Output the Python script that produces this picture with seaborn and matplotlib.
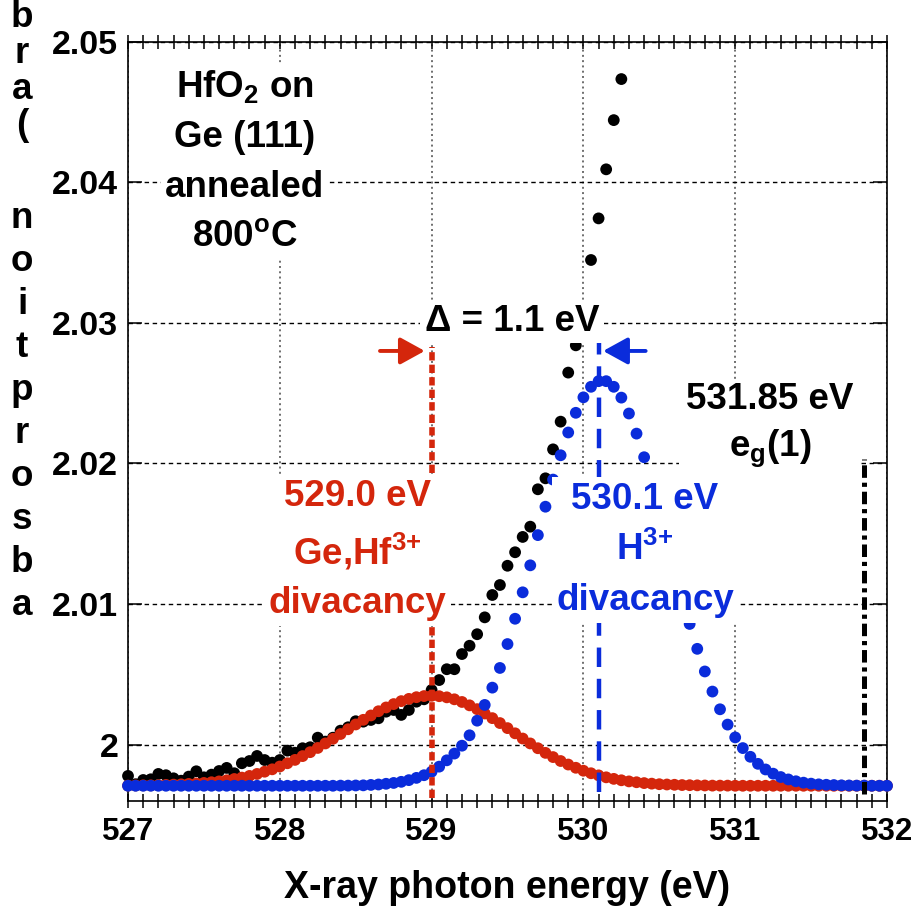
import numpy as np
import pandas as pd
import matplotlib
matplotlib.use("Agg")
import matplotlib.pyplot as plt
from matplotlib.ticker import MultipleLocator, FixedLocator, FixedFormatter
import seaborn as sns

sns.set_theme(style="ticks")
plt.rcParams["font.family"] = ["Liberation Sans", "DejaVu Sans"]
plt.rcParams["font.weight"] = "bold"
plt.rcParams["mathtext.fontset"] = "custom"
for key in ("rm", "it", "bf", "sf"):
    plt.rcParams[f"mathtext.{key}"] = "Liberation Sans:bold"
plt.rcParams["lines.scale_dashes"] = False
for key in ("text.color", "axes.labelcolor", "xtick.color", "ytick.color", "axes.edgecolor"):
    plt.rcParams[key] = "black"

RED = "#D4260C"
BLUE = "#0A2CDB"

# photon-energy sampling grid of the scan (eV)
energy = np.round(np.linspace(527.0, 532.0, 101), 2)

# measured O K-edge absorption, 527.00 ... 530.25 eV
measured = [
    1.99777, 1.99718, 1.99748, 1.99753, 1.99791, 1.99782, 1.99760, 1.99743,
    1.99772, 1.99810, 1.99767, 1.99786, 1.99812, 1.99834, 1.99796, 1.99867,
    1.99883, 1.99919, 1.99890, 1.99871, 1.99890, 1.99957, 1.99942, 1.99974,
    1.99981, 2.00049, 2.00021, 2.00049, 2.00099, 2.00123, 2.00166, 2.00163,
    2.00175, 2.00187, 2.00234, 2.00246, 2.00211, 2.00246, 2.00305, 2.00322,
    2.00388, 2.00459, 2.00536, 2.00536, 2.00644, 2.00703, 2.00785, 2.00905,
    2.01064, 2.01135, 2.01272, 2.01368, 2.01477, 2.01550, 2.01816, 2.01894,
    2.02100, 2.02297, 2.02646, 2.02840, 2.03110, 2.03447, 2.03743, 2.04092,
    2.04442, 2.04734,
]

# Ge,Hf3+ divacancy component, 527.00 ... 532.00 eV
ge_hf_component = [
    1.99708, 1.99709, 1.99710, 1.99710, 1.99711, 1.99713, 1.99715, 1.99717,
    1.99720, 1.99723, 1.99727, 1.99732, 1.99738, 1.99746, 1.99755, 1.99765,
    1.99777, 1.99791, 1.99807, 1.99824, 1.99844, 1.99867, 1.99891, 1.99918,
    1.99946, 1.99976, 2.00008, 2.00041, 2.00075, 2.00109, 2.00143, 2.00176,
    2.00207, 2.00237, 2.00264, 2.00288, 2.00309, 2.00325, 2.00337, 2.00345,
    2.00347, 2.00344, 2.00336, 2.00322, 2.00303, 2.00279, 2.00252, 2.00221,
    2.00188, 2.00153, 2.00117, 2.00080, 2.00043, 2.00008, 1.99974, 1.99941,
    1.99911, 1.99883, 1.99858, 1.99835, 1.99814, 1.99796, 1.99781, 1.99767,
    1.99756, 1.99746, 1.99738, 1.99732, 1.99726, 1.99722, 1.99718, 1.99716,
    1.99714, 1.99712, 1.99711, 1.99710, 1.99709, 1.99708, 1.99708, 1.99708,
    1.99707, 1.99707, 1.99707, 1.99707, 1.99707, 1.99707, 1.99707, 1.99707,
    1.99707, 1.99707, 1.99707, 1.99707, 1.99707, 1.99707, 1.99707, 1.99707,
    1.99707, 1.99707, 1.99707, 1.99707, 1.99707,
]

# H3+ divacancy component, 527.00 ... 532.00 eV
h_component = [
    1.99707, 1.99707, 1.99707, 1.99707, 1.99707, 1.99707, 1.99707, 1.99707,
    1.99707, 1.99707, 1.99707, 1.99707, 1.99707, 1.99707, 1.99707, 1.99707,
    1.99707, 1.99707, 1.99707, 1.99707, 1.99707, 1.99707, 1.99707, 1.99707,
    1.99707, 1.99707, 1.99707, 1.99707, 1.99708, 1.99708, 1.99709, 1.99710,
    1.99713, 1.99716, 1.99721, 1.99727, 1.99735, 1.99747, 1.99763, 1.99782,
    1.99807, 1.99843, 1.99888, 1.99936, 1.99992, 2.00066, 2.00170, 2.00282,
    2.00405, 2.00545, 2.00715, 2.00895, 2.01083, 2.01275, 2.01490, 2.01692,
    2.01885, 2.02058, 2.02220, 2.02360, 2.02470, 2.02545, 2.02585, 2.02585,
    2.02545, 2.02468, 2.02355, 2.02212, 2.02044, 2.01857, 2.01658, 2.01453,
    2.01248, 2.01048, 2.00858, 2.00681, 2.00520, 2.00377, 2.00251, 2.00142,
    2.00051, 1.99975, 1.99913, 1.99863, 1.99823, 1.99793, 1.99769, 1.99752,
    1.99739, 1.99729, 1.99722, 1.99717, 1.99714, 1.99712, 1.99710, 1.99709,
    1.99708, 1.99708, 1.99707, 1.99707, 1.99707,
]

x_ticks = [527, 528, 529, 530, 531, 532]
x_tick_labels = ["527", "528", "529", "530", "531", "532"]
y_ticks = [2.00, 2.01, 2.02, 2.03, 2.04, 2.05]
y_tick_labels = ["2", "2.01", "2.02", "2.03", "2.04", "2.05"]

ge_hf_peak = 529.0
h_peak = 530.1
eg_edge = 531.85
splitting = round(h_peak - ge_hf_peak, 1)

XTICK_FS = 22.5
YTICK_FS = 24.5
TEXT_FS = 26.5

fig = plt.figure(figsize=(9.15, 9.10), dpi=100)
ax = fig.add_axes([0.1399, 0.1200, 0.8295, 0.8342])

df_meas = pd.DataFrame({"energy": energy[:len(measured)], "absorption": measured})
df_gehf = pd.DataFrame({"energy": energy, "absorption": ge_hf_component})
df_h = pd.DataFrame({"energy": energy, "absorption": h_component})

dot = dict(s=72, edgecolor="none", linewidth=0, clip_on=False, legend=False)
sns.scatterplot(data=df_meas, x="energy", y="absorption", color="black", ax=ax, zorder=3, **dot)
sns.scatterplot(data=df_gehf, x="energy", y="absorption", color=RED, ax=ax, zorder=4, **dot)
sns.scatterplot(data=df_h, x="energy", y="absorption", color=BLUE, ax=ax, zorder=5, **dot)

ax.set_xlim(527, 532)
ax.set_ylim(1.996, 2.05)

# peak markers
ax.axvline(ge_hf_peak, ymin=0.004, ymax=0.598, color=RED, lw=4.0,
           linestyle=(0, (6.0, 3.0)), zorder=6)
ax.axvline(h_peak, ymin=0.011, ymax=0.604, color=BLUE, lw=3.2,
           linestyle=(0, (14.0, 8.5)), zorder=6)
ax.axvline(eg_edge, ymin=0.009, ymax=0.45, color="black", lw=3.6,
           linestyle=(0, (9.0, 3.5, 3.0, 3.5)), zorder=6)

arrow_y = 2.0280
head = "-|>,head_length=0.6,head_width=0.33"
ax.annotate("", xy=(ge_hf_peak - 0.045, arrow_y), xytext=(ge_hf_peak - 0.34, arrow_y),
            arrowprops=dict(arrowstyle=head, color=RED, lw=2.8, mutation_scale=25,
                            shrinkA=0, shrinkB=0), zorder=7)
ax.annotate("", xy=(h_peak + 0.03, arrow_y), xytext=(h_peak + 0.31, arrow_y),
            arrowprops=dict(arrowstyle=head, color=BLUE, lw=2.8, mutation_scale=25,
                            shrinkA=0, shrinkB=0), zorder=7)

box = dict(boxstyle="square,pad=0.12", facecolor="white", edgecolor="none")
txt = dict(ha="center", va="center", fontsize=TEXT_FS, fontweight="bold", zorder=8)

ax.text(527.77, 2.04150, "HfO$_2$ on\nGe (111)\nannealed\n800$^{\\mathrm{o}}$C",
        color="black", linespacing=1.55, bbox=box, **txt)
ax.text(529.53, 2.03010, f"\u0394 = {splitting} eV", color="black", bbox=box, **txt)
ax.text(528.51, 2.01385, f"{ge_hf_peak:.1f} eV\nGe,Hf$^{{3{{+}}}}$\ndivacancy",
        color=RED, linespacing=1.52, bbox=box, **txt)
ax.text(530.406, 2.01385, f"{h_peak:.1f} eV\nH$^{{3{{+}}}}$\ndivacancy",
        color=BLUE, linespacing=1.55, bbox=box, **txt)
ax.text(531.23, 2.02270, f"{eg_edge:.2f} eV\ne$_{{\\mathrm{{g}}}}$(1)",
        color="black", linespacing=1.35,
        bbox=dict(boxstyle="square,pad=0.2", facecolor="white", edgecolor="none"), **txt)

# axes styling
ax.xaxis.set_major_locator(FixedLocator(x_ticks))
ax.xaxis.set_major_formatter(FixedFormatter(x_tick_labels))
ax.xaxis.set_minor_locator(MultipleLocator(0.1))
ax.yaxis.set_major_locator(FixedLocator(y_ticks))
ax.yaxis.set_major_formatter(FixedFormatter(y_tick_labels))

ax.tick_params(axis="x", which="both", direction="inout", top=True, bottom=True,
               length=9.4, width=1.1, color="black", pad=6.8,
               labelsize=XTICK_FS, labelcolor="black")
ax.tick_params(axis="y", which="major", direction="in", left=True, right=True,
               length=10, width=1.1, color="black", pad=7,
               labelsize=YTICK_FS, labelcolor="black")
for lab in ax.get_xticklabels() + ax.get_yticklabels():
    lab.set_fontweight("bold")

ax.set_axisbelow(True)
ax.xaxis.grid(True, which="major", linestyle=(0, (1.4, 2.4)), color="#555555", lw=1.2)
ax.yaxis.grid(True, which="major", linestyle=(0, (3.2, 2.6)), color="black", lw=1.0)
for sp in ax.spines.values():
    sp.set_linewidth(1.2)
    sp.set_color("black")

ax.set_xlabel("X-ray photon energy (eV)", fontsize=27, fontweight="bold",
              labelpad=16.5, color="black")
ax.set_ylabel("")

# vertical stacked axis title, read bottom to top
ylabel_text = "absorption (arb"
W, H = 915, 910
split = ylabel_text.index(" ")
for k, ch in enumerate(ylabel_text):
    if ch == " ":
        continue
    if k < split:
        base = 615 - 43 * k
    else:
        base = 135 - 36 * (k - split - 1)
    fig.text(22 / W, 1 - base / H, ch, ha="center", va="baseline",
             fontsize=TEXT_FS, fontweight="bold", color="black")

fig.savefig("out.png", dpi=100)
